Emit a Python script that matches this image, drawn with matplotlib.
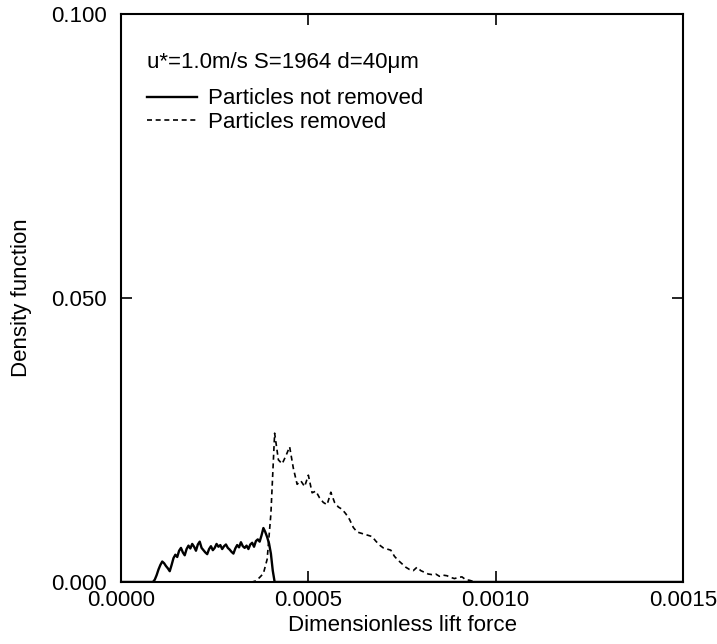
#!/usr/bin/env python3
"""Density function of dimensionless lift force (particles removed / not removed)."""
import matplotlib

matplotlib.use("Agg")
import matplotlib.pyplot as plt

plt.rcParams["font.family"] = ["Liberation Sans", "DejaVu Sans"]

# 粒子が残った側 (solid)
KEPT_X = [0.0, 0.000080, 0.000085, 0.000090, 0.000095, 0.000100, 0.000105,
          0.000110, 0.000115, 0.000120, 0.000125, 0.000130, 0.000135,
          0.000140, 0.000145, 0.000150, 0.000155, 0.000160, 0.000165,
          0.000170, 0.000175, 0.000180, 0.000185, 0.000190, 0.000195,
          0.000200, 0.000205, 0.000210, 0.000215, 0.000220, 0.000225,
          0.000230, 0.000235, 0.000240, 0.000245, 0.000250, 0.000255,
          0.000260, 0.000265, 0.000270, 0.000275, 0.000280, 0.000285,
          0.000290, 0.000295, 0.000300, 0.000305, 0.000310, 0.000315,
          0.000320, 0.000325, 0.000330, 0.000335, 0.000340, 0.000345,
          0.000350, 0.000355, 0.000360, 0.000365, 0.000370, 0.000375,
          0.000380, 0.000385, 0.000390, 0.000395, 0.000400, 0.000405,
          0.000410, 0.0015]
KEPT_Y = [0.0, 0.0, 0.0, 0.0004, 0.0012, 0.0022, 0.0030,
          0.0036, 0.0033, 0.0028, 0.0024, 0.0019, 0.0030,
          0.0042, 0.0048, 0.0044, 0.0055, 0.0060, 0.0052,
          0.0047, 0.0058, 0.0064, 0.0059, 0.0067, 0.0062,
          0.0055, 0.0066, 0.0071, 0.0060, 0.0056, 0.0052,
          0.0049, 0.0058, 0.0063, 0.0056, 0.0060, 0.0067,
          0.0062, 0.0065, 0.0058, 0.0063, 0.0066, 0.0060,
          0.0057, 0.0053, 0.0050, 0.0059, 0.0065, 0.0061,
          0.0070, 0.0063, 0.0060, 0.0064, 0.0058, 0.0066,
          0.0069, 0.0062, 0.0072, 0.0075, 0.0071, 0.0082,
          0.0095, 0.0088, 0.0079, 0.0068, 0.0050, 0.0020,
          0.0, 0.0]

# 除去された側 (dashed)
REMOVED_X = [0.0, 0.00035, 0.00036, 0.00037, 0.00038, 0.00039, 0.00040,
             0.00041, 0.00042, 0.00043, 0.00044, 0.00045, 0.00046, 0.00047,
             0.00048, 0.00049, 0.00050, 0.00051, 0.00052, 0.00053, 0.00054,
             0.00055, 0.00056, 0.00057, 0.00058, 0.00059, 0.00060, 0.00061,
             0.00062, 0.00063, 0.00064, 0.00065, 0.00066, 0.00067, 0.00068,
             0.00069, 0.00070, 0.00071, 0.00072, 0.00073, 0.00074, 0.00075,
             0.00076, 0.00077, 0.00078, 0.00079, 0.00080, 0.00081, 0.00082,
             0.00083, 0.00084, 0.00085, 0.00086, 0.00087, 0.00088, 0.00089,
             0.00090, 0.00091, 0.00092, 0.00093, 0.00094, 0.00095, 0.0015]
REMOVED_Y = [0.0, 0.0, 0.0002, 0.0008, 0.0015, 0.0040, 0.0120,
             0.0262, 0.0215, 0.0208, 0.0222, 0.0238, 0.0200, 0.0172,
             0.0178, 0.0168, 0.0188, 0.0157, 0.0160, 0.0148, 0.0140,
             0.0136, 0.0158, 0.0140, 0.0132, 0.0128, 0.0120, 0.0110,
             0.0096, 0.0088, 0.0086, 0.0084, 0.0082, 0.0080, 0.0072,
             0.0065, 0.0060, 0.0058, 0.0056, 0.0045, 0.0038, 0.0032,
             0.0026, 0.0022, 0.0020, 0.0026, 0.0020, 0.0017, 0.0014,
             0.0013, 0.0014, 0.0010, 0.0012, 0.0011, 0.0008, 0.0006,
             0.0008, 0.0009, 0.0004, 0.0003, 0.0001, 0.0, 0.0]

X_TICKS = [0.0, 0.0005, 0.0010, 0.0015]
X_TICK_LABELS = ["0.0000", "0.0005", "0.0010", "0.0015"]
Y_TICKS = [0.0, 0.05, 0.10]
Y_TICK_LABELS = ["0.000", "0.050", "0.100"]

LEGEND_TITLE = "u*=1.0m/s S=1964 d=40μm"


def main():
    fig = plt.figure(figsize=(7.17, 6.44), dpi=100)
    ax = fig.add_axes([0.1688, 0.0963, 0.7838, 0.882])

    ax.plot(KEPT_X, KEPT_Y, "-", color="black", lw=1.7,
            label="Particles not removed")
    ax.plot(REMOVED_X, REMOVED_Y, color="black", lw=1.2,
            linestyle=(0, (3.0, 2.2)), label="Particles removed")

    ax.set_xlim(0.0, 0.0015)
    ax.set_ylim(0.0, 0.10)
    ax.set_xticks(X_TICKS)
    ax.set_xticklabels(X_TICK_LABELS)
    ax.set_yticks(Y_TICKS)
    ax.set_yticklabels(Y_TICK_LABELS)
    ax.tick_params(direction="in", top=True, right=True, length=8, width=1.2,
                   labelsize=16)
    ax.tick_params(axis="x", pad=6)
    ax.tick_params(axis="y", pad=10)
    for sp in ax.spines.values():
        sp.set_linewidth(1.5)

    ax.set_xlabel("Dimensionless lift force", fontsize=16, labelpad=3)
    ax.set_ylabel("Density function", fontsize=16, labelpad=14)

    leg = ax.legend(title=LEGEND_TITLE, loc="upper left",
                    bbox_to_anchor=(0.046, 0.933), frameon=False,
                    fontsize=16, title_fontsize=16, handlelength=2.25,
                    handletextpad=0.5, labelspacing=0.12, alignment="left",
                    borderaxespad=0.0, borderpad=0.0)
    leg._legend_box.sep = 11

    fig.savefig("out.png", dpi=100)
    plt.close(fig)


if __name__ == "__main__":
    main()
